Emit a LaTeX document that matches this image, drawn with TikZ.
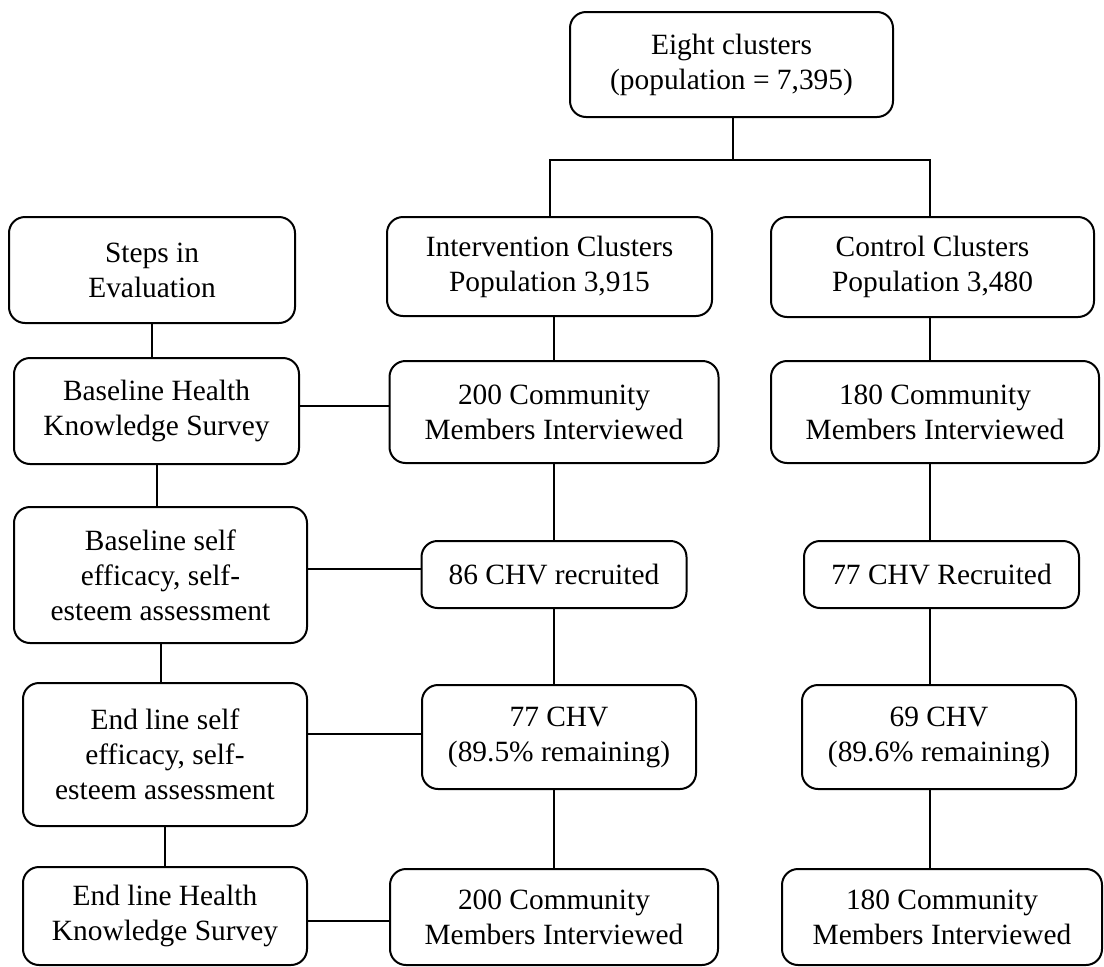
\documentclass[tikz,border=0pt]{standalone}
\usepackage{fontspec}
\setmainfont{Liberation Serif}
\begin{document}
\begin{tikzpicture}[x=1pt,y=-1pt,
  box/.style={draw, line width=2pt, rounded corners=16pt, align=center, inner sep=0pt,
    font=\fontsize{29.4}{35}\selectfont},
  link/.style={line width=2pt}]
\useasboundingbox (0,0) rectangle (1104,967);
% top
\node[box, minimum width=323pt, minimum height=105pt] (top) at (731.5,64.5) {Eight clusters\\(population = 7,395)};
% row 1
\node[box, minimum width=286pt, minimum height=106pt] (steps) at (152,270) {Steps in\\Evaluation};
\node[box, minimum width=325pt, minimum height=99pt] (interv) at (549.5,266.5) {Intervention Clusters\\Population 3,915};
\node[box, minimum width=323pt, minimum height=100pt] (control) at (932.5,267) {Control Clusters\\Population 3,480};
% row 2
\node[box, minimum width=285pt, minimum height=106pt] (bhks) at (156.5,411) {Baseline Health\\Knowledge Survey};
\node[box, minimum width=329pt, minimum height=102pt] (i200) at (554,412) {200 Community\\Members Interviewed};
\node[box, minimum width=328pt, minimum height=102pt] (c180) at (935,412) {180 Community\\Members Interviewed};
% row 3
\node[box, minimum width=293pt, minimum height=136pt] (bself) at (160.5,575) {Baseline self\\efficacy, self-\\esteem assessment};
\node[box, minimum width=265pt, minimum height=67pt] (i86) at (554,574.5) {86 CHV recruited};
\node[box, minimum width=275pt, minimum height=67pt] (c77) at (941.5,574.5) {77 CHV Recruited};
% row 4
\node[box, minimum width=284pt, minimum height=143pt] (eself) at (165,754.5) {End line self\\efficacy, self-\\esteem assessment};
\node[box, minimum width=274pt, minimum height=104pt] (i77) at (559,737) {77 CHV\\(89.5\% remaining)};
\node[box, minimum width=274pt, minimum height=104pt] (c69) at (939,737) {69 CHV\\(89.6\% remaining)};
% row 5
\node[box, minimum width=284pt, minimum height=98pt] (ehks) at (165,916) {End line Health\\Knowledge Survey};
\node[box, minimum width=328pt, minimum height=96pt] (i200b) at (554,917) {200 Community\\Members Interviewed};
\node[box, minimum width=320pt, minimum height=96pt] (c180b) at (942,917) {180 Community\\Members Interviewed};
% tree at top
\coordinate (j) at (733,160);
\coordinate (cx) at (930,0);
\draw[link] (top.south -| j) -- (j);
\draw[link] (interv.north) |- (j) -| (control.north -| cx);
% left column
\draw[link] (steps.south) -- (steps.south |- bhks.north);
\draw[link] (bhks.south) -- (bhks.south |- bself.north);
\draw[link] (bself.south) -- (bself.south |- eself.north);
\draw[link] (eself.south) -- (eself.south |- ehks.north);
% intervention column
\draw[link] (i200.north) -- (i200.north |- interv.south);
\draw[link] (i86.north) -- (i86.north |- i200.south);
\draw[link] (i86.south) -- (i86.south |- i77.north);
\draw[link] (i200b.north) -- (i200b.north |- i77.south);
% control column
\draw[link] (control.south -| cx) -- (c180.north -| cx);
\draw[link] (c180.south -| cx) -- (c77.north -| cx);
\draw[link] (c77.south -| cx) -- (c69.north -| cx);
\draw[link] (c69.south -| cx) -- (c180b.north -| cx);
% horizontal links
\draw[link] ([yshift=5pt]bhks.east) -- ([yshift=5pt]bhks.east -| i200.west);
\draw[link] ([yshift=6pt]bself.east) -- ([yshift=6pt]bself.east -| i86.west);
\draw[link] ([yshift=3.5pt]i77.west) -- ([yshift=3.5pt]i77.west -| eself.east);
\draw[link] ([yshift=-4.5pt]ehks.east) -- ([yshift=-4.5pt]ehks.east -| i200b.west);
\end{tikzpicture}
\end{document}
